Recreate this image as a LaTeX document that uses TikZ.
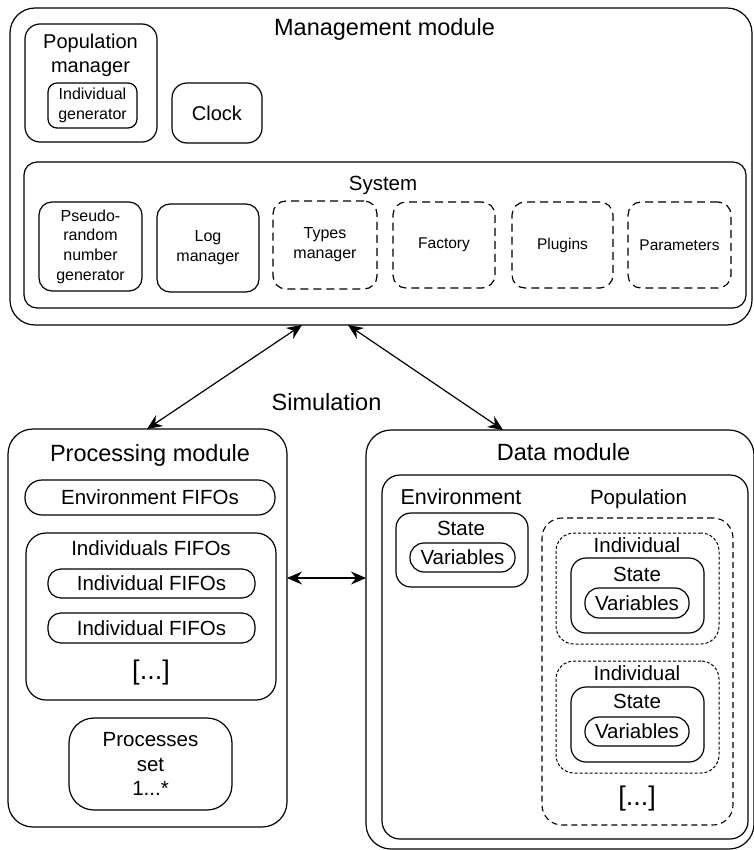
\documentclass[tikz,border=0pt]{standalone}
\usepackage{fontspec}
\setmainfont{Liberation Sans}
\usetikzlibrary{arrows.meta}

% box from corner (x1,y1) to (x2,y2), y measured downwards
\newcommand{\mybox}[7]{\node[#1, minimum width={#5-#3}, minimum height={#6-#4}] (#2) at ({(#3+#5)/2},{(#4+#6)/2}) {#7};}

\tikzset{
  frame/.style={draw, line width=1.2pt, inner sep=0pt, outer sep=0pt, align=center,
                font=\fontsize{20.5}{24.5}\selectfont},
  small/.style={font=\fontsize{16}{20}\selectfont},
  tiny/.style={font=\fontsize{15.5}{19.5}\selectfont},
  sysdash/.style={dash pattern=on 8pt off 5pt},
  popdash/.style={line width=1.1pt, dash pattern=on 6pt off 4pt},
  inddash/.style={line width=1pt, dash pattern=on 3pt off 2pt},
  title/.style={anchor=base, inner sep=0pt, font=\fontsize{23.5}{28}\selectfont},
  label/.style={anchor=base, inner sep=0pt, align=center, font=\fontsize{20.5}{24.5}\selectfont},
  dots/.style={inner sep=0pt, font=\fontsize{27}{30}\selectfont},
  link/.style={line width=1.2pt, {Stealth[length=15pt,width=13pt,inset=5pt]}-{Stealth[length=15pt,width=13pt,inset=5pt]}}
}

\begin{document}
\begin{tikzpicture}[x=1pt, y=-1pt]
\useasboundingbox (0,0) rectangle (753,850);

% ---------------- Management module ----------------
\mybox{frame, rounded corners=25pt}{mgmt}{10}{8}{752}{325}{}
\node[title] (mgmttitle) at (384.5,36) {Management module};

\mybox{frame, rounded corners=15pt}{popman}{25}{24}{157}{142}{}
% two-line label: base anchor sits on the last line
\node[label, font=\fontsize{20}{24.5}\selectfont] (popmantitle) at (90.5,72.8) {Population\\manager};
\mybox{frame, small, rounded corners=9pt}{indgen}{48}{83}{137}{128}{Individual\\generator}
\mybox{frame, font=\fontsize{20}{24}\selectfont, rounded corners=15pt}{clock}{172}{83}{262}{143}{Clock}

\mybox{frame, rounded corners=13pt}{system}{24}{162}{746}{308}{}
\node[label] (systitle) at (383,191) {System};
\mybox{frame, small, font=\fontsize{16}{19.7}\selectfont, rounded corners=13pt}{prng}{39}{202}{142}{291}{Pseudo-\\random\\number\\generator}
\mybox{frame, small, rounded corners=13pt}{logman}{157}{204}{259}{292}{Log\\manager}
\mybox{frame, small, sysdash, rounded corners=13pt}{types}{273}{201}{377}{289}{Types\\manager}
\mybox{frame, tiny, sysdash, rounded corners=13pt}{factory}{393}{202}{495}{288}{Factory}
\mybox{frame, tiny, sysdash, rounded corners=13pt}{plugins}{512}{202}{613}{288}{Plugins}
\mybox{frame, tiny, sysdash, rounded corners=13pt}{params}{628}{202}{731}{288}{Parameters}

% ---------------- Processing module ----------------
\mybox{frame, rounded corners=25pt}{proc}{8}{429}{287}{827}{}
\node[title] (proctitle) at (150,461.7) {Processing module};
\mybox{frame, rounded corners=17pt}{envfifo}{25}{480}{275}{515}{Environment FIFOs}
\mybox{frame, rounded corners=20pt}{indsfifo}{26}{533}{276}{700}{}
\node[label] (indsfifotitle) at (151,555) {Individuals FIFOs};
\mybox{frame, rounded corners=13pt}{indfifoa}{48}{569}{255}{598}{Individual FIFOs}
\mybox{frame, rounded corners=13pt}{indfifob}{48}{613}{255}{643}{Individual FIFOs}
\node[dots] (fifodots) at (151,672.5) {[...]};
\mybox{frame, rounded corners=25pt}{procset}{69}{718}{232}{810}{Processes\\set\\1...*}

% ---------------- Data module ----------------
\mybox{frame, rounded corners=25pt}{data}{366}{430}{754}{849}{}
\node[title] (datatitle) at (563.5,460) {Data module};
\mybox{frame, rounded corners=18pt}{datain}{382}{475}{748}{839}{}
\node[label, font=\fontsize{21.5}{24}\selectfont] (envtitle) at (461,504) {Environment};
\node[label] (poptitle) at (638.5,504) {Population};

\mybox{frame, rounded corners=15pt}{envstate}{396}{513}{528}{587}{}
\node[label] (envstatetitle) at (461,535) {State};
\mybox{frame, rounded corners=14pt}{envvars}{410}{543}{515}{572}{Variables}

\mybox{frame, popdash, rounded corners=20pt}{pop}{542}{518}{733}{825}{}

\mybox{frame, inddash, rounded corners=18pt}{inda}{556}{533}{719}{644}{}
\node[label] (indatitle) at (637,552.7) {Individual};
\mybox{frame, rounded corners=15pt}{statea}{571}{558}{704}{633}{}
\node[label] (stateatitle) at (637,581) {State};
\mybox{frame, rounded corners=14pt}{varsa}{585}{588}{689}{618}{Variables}

\mybox{frame, inddash, rounded corners=18pt}{indb}{556}{661}{719}{773}{}
\node[label] (indbtitle) at (637,680.7) {Individual};
\mybox{frame, rounded corners=15pt}{stateb}{571}{687}{704}{762}{}
\node[label] (statebtitle) at (637,708.3) {State};
\mybox{frame, rounded corners=14pt}{varsb}{585}{717}{689}{746}{Variables}

\node[dots] (popdots) at (637,798.7) {[...]};

% ---------------- Connections ----------------
\node[title] (sim) at (326.5,410) {Simulation};

\coordinate (ma) at (302,0);
\coordinate (mb) at (348,0);
\coordinate (pa) at (147,0);
\coordinate (da) at (503,0);
\coordinate (hy) at (0,578);
\draw[link] (ma |- mgmt.south) -- (pa |- proc.north);
\draw[link] (mb |- mgmt.south) -- (da |- data.north);
\draw[link] (proc.east |- hy) -- (data.west |- hy);
\end{tikzpicture}
\end{document}
